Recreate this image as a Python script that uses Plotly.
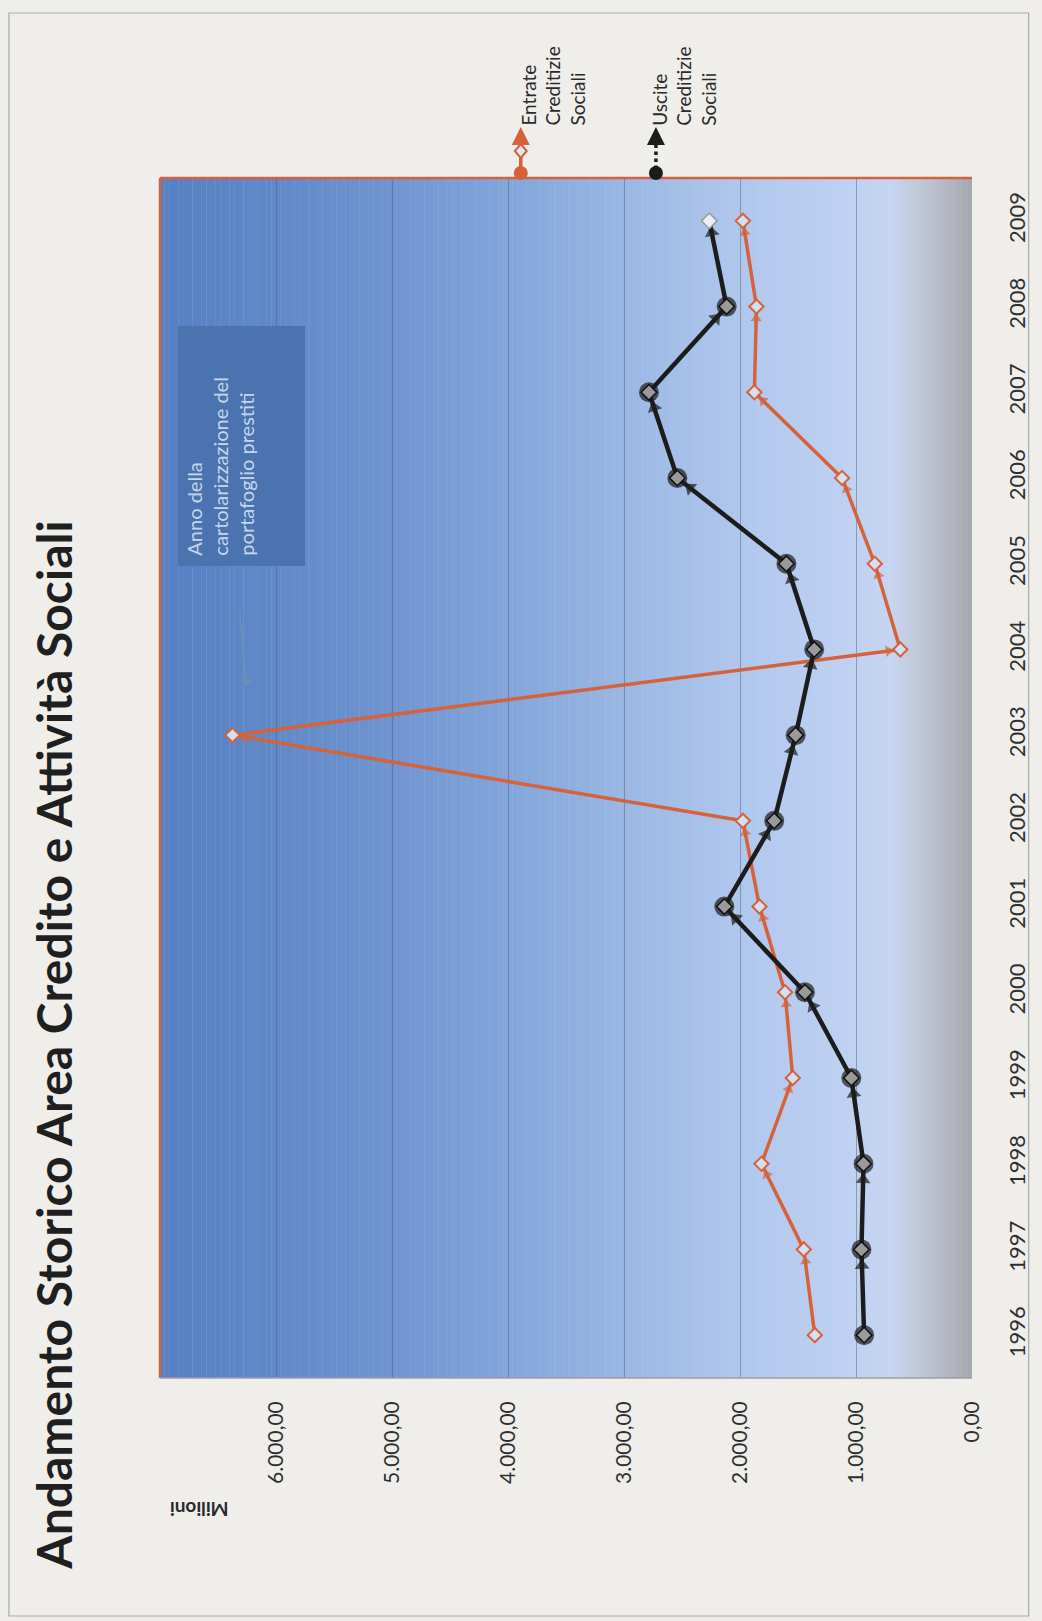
import plotly.graph_objects as go

# ---------------- data ----------------
years = [1996, 1997, 1998, 1999, 2000, 2001, 2002, 2003, 2004, 2005, 2006, 2007, 2008, 2009]
year_labels = [str(y) for y in years]
entrate = [1355, 1450, 1815, 1545, 1612, 1832, 1975, 6375, 618, 838, 1120, 1876, 1858, 1975]
uscite = [930, 953, 935, 1040, 1440, 2135, 1705, 1520, 1360, 1600, 2540, 2785, 2115, 2265]
value_ticks = [0, 1000, 2000, 3000, 4000, 5000, 6000]
value_tick_labels = ["0,00", "1.000,00", "2.000,00", "3.000,00", "4.000,00", "5.000,00", "6.000,00"]
name_entrate = ["Entrate", "Creditizie", "Sociali"]
name_uscite = ["Uscite", "Creditizie", "Sociali"]
title_text = "Andamento Storico Area Credito e Attività Sociali"
note_lines = ["Anno della", "cartolarizzazione del", "portafoglio prestiti"]
unit_text = "Milioni"

# ---------------- layout helpers ----------------
W, H = 1042, 1621
L, R, T, B = 160, 65, 178, 243
PW, PH = W - L - R, H - T - B


def px(x):
    return (x - L) / PW


def py(y):
    return (H - B - y) / PH


ORANGE = "#d5623a"
BLACK = "#1c1c1c"
FONT = "Lato"

fig = go.Figure()
n = len(years)

# orange series
fig.add_trace(go.Scatter(x=entrate, y=years, mode="lines",
                         line=dict(color=ORANGE, width=3.5), hoverinfo="skip"))
fig.add_trace(go.Scatter(x=entrate, y=years, mode="markers",
                         marker=dict(symbol="triangle-up", angleref="previous", standoff=12,
                                     size=[0] + [10] * (n - 1), color=ORANGE, line=dict(width=0)),
                         hoverinfo="skip"))
fig.add_trace(go.Scatter(x=entrate, y=years, mode="markers",
                         marker=dict(symbol="diamond", size=11, color="#d3e0f3",
                                     line=dict(color=ORANGE, width=2))))

# black series
fig.add_trace(go.Scatter(x=uscite, y=years, mode="lines",
                         line=dict(color=BLACK, width=4.5), hoverinfo="skip"))
fig.add_trace(go.Scatter(x=uscite, y=years, mode="markers",
                         marker=dict(symbol="triangle-up", angleref="previous",
                                     standoff=[0] + [16] * (n - 2) + [12],
                                     size=[0] + [13] * (n - 1), color=BLACK, line=dict(width=0)),
                         hoverinfo="skip"))
fig.add_trace(go.Scatter(x=uscite, y=years, mode="markers",
                         marker=dict(symbol="circle", size=[20] * (n - 1) + [0], color=BLACK,
                                     line=dict(width=0)),
                         hoverinfo="skip"))
fig.add_trace(go.Scatter(x=uscite, y=years, mode="markers",
                         marker=dict(symbol="diamond", size=12,
                                     color=["#9a9a9a"] * (n - 1) + ["#e9eef7"],
                                     line=dict(color=["#111111"] * (n - 1) + ["#9a9a9a"], width=1.5))))

# ---------------- background gradient (plot area) ----------------
stops = [(7000, (86, 128, 195)), (6000, (96, 137, 200)), (5000, (111, 149, 208)),
         (4000, (131, 165, 218)), (3000, (154, 183, 228)), (2000, (176, 199, 237)),
         (1000, (192, 210, 242)), (700, (198, 213, 240)), (450, (192, 200, 214)),
         (200, (179, 183, 191)), (0, (164, 167, 173))]


def color_at(v):
    for (v0, c0), (v1, c1) in zip(stops[:-1], stops[1:]):
        if v1 <= v <= v0:
            t = (v0 - v) / (v0 - v1)
            return "rgb(%d,%d,%d)" % tuple(round(a + (b - a) * t) for a, b in zip(c0, c1))
    return "rgb(%d,%d,%d)" % stops[-1][1]


shapes = []
NSTRIP = 175
step = 7000 / NSTRIP
for i in range(NSTRIP):
    a = 7000 - i * step
    b = a - step
    shapes.append(dict(type="rect", xref="x", yref="y domain", x0=a + 1, x1=b - 1, y0=0, y1=1,
                       fillcolor=color_at((a + b) / 2), line=dict(width=0), layer="below"))

# plot border lines
shapes.append(dict(type="line", xref="paper", yref="paper", x0=0, x1=1, y0=1, y1=1,
                   line=dict(color=ORANGE, width=2.5)))
shapes.append(dict(type="line", xref="paper", yref="paper", x0=0, x1=0, y0=0, y1=1,
                   line=dict(color=ORANGE, width=2.5)))
shapes.append(dict(type="line", xref="paper", yref="paper", x0=0, x1=1, y0=0, y1=0,
                   line=dict(color="#9a9ea6", width=1.5)))

# outer frame
shapes.append(dict(type="rect", xref="paper", yref="paper", x0=px(8), x1=px(1034), y0=py(13), y1=py(1616),
                   line=dict(color="#a8a8a8", width=1.2), fillcolor="rgba(0,0,0,0)", layer="below"))

# note box
shapes.append(dict(type="rect", xref="paper", yref="paper", x0=px(178), x1=px(306), y0=py(566), y1=py(326),
                   fillcolor="#4a73af", line=dict(width=0)))

# legend glyphs
for lx, col, dash in [(523, ORANGE, "solid"), (659, BLACK, "dot")]:
    shapes.append(dict(type="line", xref="paper", yref="paper", x0=px(lx), x1=px(lx), y0=py(176), y1=py(138),
                       line=dict(color=col, width=3.5, dash=dash)))
    shapes.append(dict(type="circle", xref="paper", yref="paper", xsizemode="pixel", ysizemode="pixel",
                       xanchor=px(lx), yanchor=py(173), x0=-7, x1=7, y0=-7, y1=7,
                       fillcolor=col, line=dict(width=0)))
shapes.append(dict(type="path", xref="paper", yref="paper", xsizemode="pixel", ysizemode="pixel",
                   xanchor=px(523), yanchor=py(151), path="M0,7L6,0L0,-7L-6,0Z",
                   fillcolor="#dce6f5", line=dict(color=ORANGE, width=2)))

annotations = []
# legend arrowheads
for lx, col in [(523, ORANGE), (659, BLACK)]:
    annotations.append(dict(xref="paper", yref="paper", x=px(lx), y=py(127), ax=0, ay=16,
                            text="", showarrow=True, arrowhead=2, arrowsize=1.2, arrowwidth=3,
                            arrowcolor=col))
# legend texts (rotated blocks, rotated around their centre)
for cx, lines in [(555, name_entrate), (687, name_uscite)]:
    annotations.append(dict(xref="paper", yref="paper", x=px(cx), y=py(86),
                            xanchor="center", yanchor="middle", align="left",
                            text="<br>".join(lines), showarrow=False, textangle=-90,
                            font=dict(family=FONT, size=19, color="#2a2a2a")))

# title
annotations.append(dict(xref="paper", yref="paper", x=px(52), y=py(1045), xanchor="center", yanchor="middle",
                        text="<b>" + title_text + "</b>", showarrow=False, textangle=-90,
                        font=dict(family=FONT, size=48, color="#1f1f1f")))
# unit label
annotations.append(dict(xref="paper", yref="paper", x=px(199), y=py(1510), xanchor="center", yanchor="middle",
                        text="<b>" + unit_text + "</b>", showarrow=False, textangle=180,
                        font=dict(family=FONT, size=19, color="#2a2a2a")))
# note text
annotations.append(dict(xref="paper", yref="paper", x=px(220), y=py(466),
                        xanchor="center", yanchor="middle", align="left",
                        text="<br>".join(note_lines), showarrow=False, textangle=-90,
                        font=dict(family=FONT, size=20, color="rgba(215,227,244,0.9)")))
# small pointer arrow
annotations.append(dict(xref="paper", yref="paper", x=px(247), y=py(686), ax=-7, ay=-76,
                        text="", showarrow=True, arrowhead=1, arrowsize=1.3, arrowwidth=1.5,
                        arrowcolor="#6f90b4"))

fig.update_layout(
    width=W, height=H,
    margin=dict(l=L, r=R, t=T, b=B),
    paper_bgcolor="#efeeea",
    plot_bgcolor="#c0d2ef",
    showlegend=False,
    shapes=shapes,
    annotations=annotations,
    xaxis=dict(range=[7000, 0], tickvals=value_ticks, ticktext=value_tick_labels,
               tickangle=-90, showgrid=True, gridcolor="rgba(85,95,115,0.5)", gridwidth=1,
               zeroline=False, showline=False, ticks="", ticklabelstandoff=18,
               tickfont=dict(family=FONT, size=21, color="#2e2e2e"), fixedrange=True),
    yaxis=dict(range=[years[0] - 0.5, years[-1] + 0.5], tickvals=years, ticktext=year_labels,
               side="right", tickangle=-90, showgrid=False, zeroline=False, showline=False,
               ticks="", ticklabelstandoff=30,
               tickfont=dict(family=FONT, size=22, color="#2e2e2e"), fixedrange=True),
)

fig.write_html("out.html")
